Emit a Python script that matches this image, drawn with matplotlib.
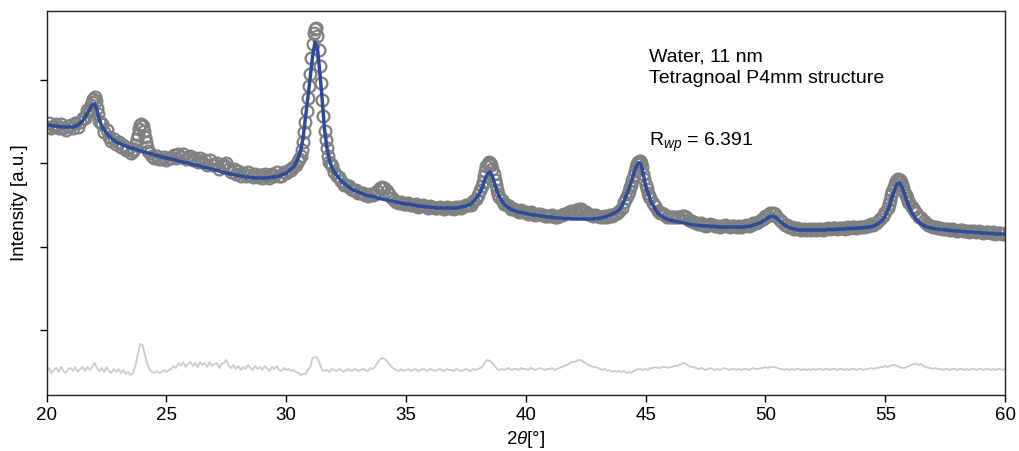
import numpy as np
import matplotlib
matplotlib.use("Agg")
import matplotlib.pyplot as plt

plt.rcParams['font.family'] = ['Liberation Sans', 'DejaVu Sans']
plt.rcParams['mathtext.fontset'] = 'custom'
plt.rcParams['mathtext.rm'] = 'Liberation Sans'
plt.rcParams['mathtext.it'] = 'Liberation Sans:italic'

#
##  Data (2theta in 0.1 deg steps, intensity in counts)
#
two_theta = np.round(np.arange(200, 601) / 10.0, 1)

observed = [
    3436, 3484, 3418, 3448, 3472, 3418, 3472, 3424, 3400, 3448,  # 20
    3460, 3424, 3484, 3436, 3496, 3544, 3544, 3640, 3652, 3736,  # 21
    3796, 3664, 3508, 3472, 3376, 3400, 3316, 3268, 3292, 3232,  # 22
    3256, 3196, 3220, 3160, 3172, 3124, 3142, 3220, 3340, 3460,  # 23
    3442, 3316, 3196, 3118, 3088, 3064, 3082, 3052, 3052, 3070,  # 24
    3040, 3058, 3064, 3094, 3064, 3112, 3070, 3112, 3046, 3076,  # 25
    3088, 3034, 3064, 3010, 3064, 3016, 3034, 2980, 3034, 2980,  # 26
    2992, 2998, 2932, 2968, 2974, 3004, 2926, 2896, 2926, 2872,  # 27
    2902, 2848, 2878, 2848, 2896, 2854, 2830, 2872, 2836, 2860,  # 28
    2824, 2872, 2848, 2818, 2872, 2848, 2890, 2848, 2848, 2896,  # 29
    2884, 2920, 2920, 2956, 2980, 3028, 3088, 3256, 3496, 3784,  # 30
    4072, 4432, 4612, 4528, 4168, 3760, 3388, 3184, 3016, 2968,  # 31
    2896, 2848, 2836, 2788, 2740, 2740, 2728, 2686, 2680, 2680,  # 32
    2644, 2644, 2644, 2620, 2602, 2632, 2614, 2632, 2668, 2698,  # 33
    2716, 2698, 2668, 2626, 2584, 2554, 2536, 2518, 2536, 2506,  # 34
    2512, 2524, 2494, 2500, 2506, 2476, 2488, 2494, 2482, 2464,  # 35
    2488, 2470, 2458, 2464, 2476, 2464, 2452, 2476, 2464, 2464,  # 36
    2452, 2476, 2470, 2464, 2482, 2500, 2500, 2500, 2548, 2572,  # 37
    2620, 2680, 2776, 2908, 2992, 3004, 2932, 2800, 2680, 2596,  # 38
    2560, 2512, 2494, 2488, 2446, 2446, 2434, 2416, 2434, 2416,  # 39
    2410, 2392, 2410, 2392, 2380, 2386, 2392, 2380, 2362, 2368,  # 40
    2368, 2374, 2350, 2356, 2368, 2380, 2386, 2398, 2410, 2428,  # 41
    2428, 2440, 2452, 2452, 2428, 2416, 2392, 2380, 2368, 2374,  # 42
    2362, 2356, 2350, 2368, 2356, 2380, 2368, 2392, 2398, 2428,  # 43
    2464, 2536, 2584, 2668, 2740, 2860, 2956, 3016, 3004, 2872,  # 44
    2740, 2644, 2584, 2524, 2488, 2428, 2404, 2398, 2380, 2356,  # 45
    2356, 2350, 2356, 2350, 2356, 2362, 2368, 2350, 2320, 2302,  # 46
    2296, 2284, 2266, 2278, 2260, 2248, 2260, 2266, 2254, 2242,  # 47
    2248, 2236, 2248, 2260, 2248, 2236, 2248, 2248, 2236, 2248,  # 48
    2236, 2248, 2254, 2242, 2260, 2284, 2278, 2290, 2314, 2332,  # 49
    2362, 2368, 2398, 2404, 2392, 2356, 2320, 2296, 2260, 2254,  # 50
    2230, 2230, 2212, 2218, 2212, 2200, 2212, 2200, 2212, 2200,  # 51
    2212, 2200, 2212, 2212, 2200, 2212, 2218, 2206, 2218, 2218,  # 52
    2212, 2224, 2224, 2212, 2230, 2218, 2230, 2230, 2224, 2236,  # 53
    2236, 2230, 2242, 2248, 2266, 2260, 2284, 2302, 2332, 2362,  # 54
    2416, 2464, 2560, 2668, 2752, 2800, 2800, 2740, 2656, 2584,  # 55
    2524, 2476, 2440, 2398, 2356, 2344, 2302, 2278, 2254, 2248,  # 56
    2230, 2236, 2224, 2218, 2206, 2212, 2212, 2194, 2206, 2200,  # 57
    2188, 2200, 2194, 2182, 2188, 2176, 2188, 2182, 2170, 2182,  # 58
    2176, 2164, 2176, 2170, 2158, 2170, 2152, 2164, 2164, 2152,  # 59
    2164,                                                        # 60
]

calculated = [
    3460, 3460, 3454, 3448, 3448, 3442, 3436, 3436, 3436, 3436,  # 20
    3436, 3436, 3448, 3460, 3484, 3508, 3556, 3604, 3652, 3700,  # 21
    3712, 3640, 3520, 3448, 3400, 3364, 3328, 3304, 3280, 3256,  # 22
    3244, 3232, 3220, 3208, 3196, 3184, 3178, 3172, 3160, 3148,  # 23
    3142, 3136, 3124, 3118, 3112, 3100, 3094, 3088, 3076, 3070,  # 24
    3064, 3058, 3052, 3046, 3040, 3028, 3022, 3016, 3010, 3004,  # 25
    2992, 2986, 2980, 2974, 2968, 2956, 2950, 2944, 2938, 2932,  # 26
    2920, 2914, 2908, 2896, 2890, 2884, 2878, 2872, 2866, 2860,  # 27
    2854, 2848, 2842, 2836, 2836, 2830, 2830, 2824, 2824, 2824,  # 28
    2824, 2824, 2824, 2830, 2836, 2836, 2842, 2848, 2860, 2872,  # 29
    2884, 2908, 2932, 2956, 3004, 3064, 3148, 3304, 3544, 3784,  # 30
    4036, 4288, 4456, 4384, 4096, 3760, 3400, 3184, 3040, 2956,  # 31
    2896, 2860, 2824, 2788, 2764, 2740, 2716, 2698, 2680, 2668,  # 32
    2656, 2644, 2632, 2620, 2614, 2608, 2602, 2596, 2584, 2578,  # 33
    2572, 2566, 2560, 2554, 2548, 2542, 2536, 2530, 2524, 2518,  # 34
    2512, 2512, 2506, 2500, 2494, 2488, 2488, 2482, 2482, 2476,  # 35
    2476, 2470, 2470, 2464, 2464, 2464, 2464, 2464, 2464, 2464,  # 36
    2464, 2464, 2470, 2476, 2482, 2488, 2500, 2512, 2536, 2572,  # 37
    2608, 2656, 2728, 2812, 2872, 2896, 2848, 2752, 2668, 2596,  # 38
    2548, 2512, 2482, 2464, 2446, 2434, 2422, 2416, 2410, 2404,  # 39
    2398, 2392, 2386, 2380, 2380, 2374, 2368, 2368, 2362, 2356,  # 40
    2356, 2350, 2350, 2344, 2344, 2344, 2338, 2338, 2338, 2332,  # 41
    2332, 2332, 2332, 2332, 2332, 2332, 2332, 2332, 2332, 2338,  # 42
    2338, 2344, 2350, 2356, 2368, 2380, 2392, 2404, 2422, 2440,  # 43
    2488, 2548, 2620, 2692, 2776, 2872, 2956, 3004, 2992, 2872,  # 44
    2728, 2644, 2560, 2500, 2452, 2404, 2380, 2362, 2344, 2332,  # 45
    2320, 2314, 2308, 2302, 2296, 2290, 2284, 2278, 2272, 2266,  # 46
    2260, 2260, 2254, 2254, 2248, 2248, 2248, 2242, 2242, 2242,  # 47
    2236, 2236, 2236, 2236, 2236, 2236, 2236, 2236, 2236, 2236,  # 48
    2236, 2236, 2242, 2242, 2248, 2260, 2266, 2278, 2290, 2308,  # 49
    2326, 2344, 2362, 2368, 2356, 2332, 2308, 2284, 2260, 2242,  # 50
    2230, 2218, 2212, 2206, 2200, 2200, 2200, 2200, 2200, 2200,  # 51
    2200, 2200, 2200, 2200, 2200, 2200, 2206, 2206, 2206, 2206,  # 52
    2212, 2212, 2212, 2212, 2218, 2218, 2218, 2218, 2224, 2224,  # 53
    2224, 2230, 2230, 2236, 2242, 2248, 2260, 2278, 2296, 2326,  # 54
    2368, 2428, 2512, 2608, 2692, 2752, 2764, 2716, 2632, 2548,  # 55
    2476, 2416, 2368, 2326, 2296, 2272, 2254, 2242, 2230, 2224,  # 56
    2218, 2212, 2212, 2206, 2206, 2200, 2200, 2194, 2194, 2188,  # 57
    2188, 2188, 2182, 2182, 2176, 2176, 2176, 2170, 2170, 2170,  # 58
    2164, 2164, 2164, 2158, 2158, 2158, 2152, 2152, 2152, 2152,  # 59
    2152,                                                        # 60
]

# extra observed readings on the steep flanks of the peaks (half steps)
peak_theta = [
    21.75, 21.85, 21.95, 22.05, 22.15, 22.25,
    23.65, 23.75, 23.85, 23.95, 24.05, 24.15, 24.25,
    30.55, 30.65, 30.75, 30.85, 30.95, 31.05, 31.15,
    31.25, 31.35, 31.45, 31.55, 31.65, 31.75, 31.85,
    38.15, 38.25, 38.35, 38.45, 38.55, 38.65, 38.75, 38.85,
    44.25, 44.35, 44.45, 44.55, 44.65, 44.75, 44.85, 44.95, 45.05, 45.15,
    55.15, 55.25, 55.35, 55.45, 55.55, 55.65, 55.75, 55.85, 55.95,
]
peak_observed = [
    3616, 3700, 3772, 3748, 3592, 3484,
    3172, 3292, 3412, 3472, 3388, 3250, 3148,
    3052, 3160, 3376, 3628, 3928, 4264, 4564,
    4624, 4360, 3964, 3568, 3280, 3088, 2992,
    2724, 2848, 2962, 3010, 2980, 2870, 2736, 2630,
    2626, 2710, 2800, 2912, 2996, 3028, 2950, 2806, 2690, 2612,
    2506, 2614, 2716, 2782, 2812, 2778, 2700, 2620, 2552,
]

diff_offset = 520

sample_lines = ["Water, 11 nm", "Tetragnoal P4mm structure"]
rwp = 6.391

#
##  Plot
#
observed = np.array(observed)
calculated = np.array(calculated)
difference = observed - calculated + diff_offset

fig = plt.figure(figsize=(10.19, 4.51), dpi=100)
ax = fig.add_axes([0.0458, 0.1242, 0.9405, 0.8514])

obs_style = dict(ls='none', marker='o', mfc='none', mec='#808080', ms=8.5, mew=1.6)
ax.plot(two_theta, observed, **obs_style)
ax.plot(peak_theta, peak_observed, **obs_style)
ax.plot(two_theta, calculated, '-', color='#2d4b9b', lw=2.5)
ax.plot(two_theta, difference, '-', color='#cbcbcb', lw=1.3)

ax.set_xlim(20, 60)
ax.set_ylim(220, 4828)
ax.set_xticks(np.arange(20, 61, 5))
ax.set_yticks([1000, 2000, 3000, 4000])
ax.set_yticklabels([])
ax.tick_params(direction='out', length=5, width=1, labelsize=13.5, colors='black')
for s in ax.spines.values():
    s.set_linewidth(1.0)
    s.set_color('#222222')

ax.set_xlabel(r'2$\theta$[°]', fontsize=13.5, labelpad=4)
ax.set_ylabel('Intensity [a.u.]', fontsize=13.5, labelpad=5)

# annotation block (baselines)
ax.text(45.13, 4220, sample_lines[0], fontsize=14, va='baseline', ha='left')
ax.text(45.13, 3968, sample_lines[1], fontsize=14, va='baseline', ha='left')
ax.text(45.13, 3204, r'R$_{wp}$ = %.3f' % rwp, fontsize=14, va='baseline', ha='left')

fig.savefig('out.png', dpi=100)
